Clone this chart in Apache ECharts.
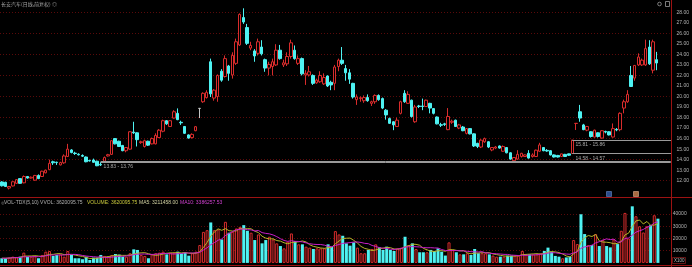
<!DOCTYPE html>
<html><head><meta charset="utf-8">
<script src="https://cdn.jsdelivr.net/npm/echarts@6/dist/echarts.min.js"></script>
<style>html,body{margin:0;padding:0;background:#000;overflow:hidden}#c{width:692px;height:267px}</style>
</head><body><div id="c"></div>
<script>
// ---- data (daily candles, oldest first) ----
const opens = [
11.88,11.85,11.3,11.5,11.75,12.2,11.8,12.4,12.25,12.05,
12.5,12.4,12.75,13.05,13.8,13.76,13.5,13.7,14.3,14.92,
14.62,14.52,14.4,14.25,13.92,13.97,13.85,13.55,13.85,14.35,
14.5,16.0,15.75,15.35,14.85,15.0,16.62,16.55,15.62,15.25,
15.75,15.5,15.5,16.1,16.7,17.7,17.15,17.95,18.4,17.55,
17.15,16.35,16.1,16.75,18.87,19.5,19.9,23.3,19.85,20.0,
22.4,21.9,22.9,22.05,23.15,24.9,27.5,26.55,24.6,24.33,
24.1,24.7,23.5,22.7,22.85,23.0,24.4,23.0,23.1,23.8,
24.4,23.15,23.6,22.05,22.05,22.0,21.3,21.4,21.2,21.95,
21.35,21.25,22.85,23.45,22.65,22.25,21.25,19.7,19.8,19.6,
19.9,19.35,19.5,20.1,19.8,18.7,17.9,17.6,17.15,18.4,
20.3,19.35,19.65,17.6,19.1,19.1,19.05,19.35,18.85,18.05,
17.32,17.4,16.85,17.55,17.75,17.0,17.1,16.5,16.95,16.45,
15.55,15.2,15.7,15.7,14.92,15.1,15.3,14.8,15.15,14.65,
13.9,14.05,14.3,14.3,14.6,14.3,14.3,14.8,15.15,14.88,
14.85,14.45,14.4,14.3,14.5,14.55,14.58,17.44,18.55,17.3,
16.8,16.65,16.15,16.55,16.05,16.68,16.65,16.15,16.88,16.85,
18.9,19.5,22.0,21.75,23.0,23.0,23.0,24.7,22.5,23.5];
const closes = [
11.52,11.45,11.45,11.9,12.1,11.75,12.4,12.25,12.33,12.5,
12.2,12.9,13.0,13.65,13.7,13.72,13.72,14.35,15.0,14.68,
14.58,14.46,14.33,13.8,13.88,13.75,13.42,13.5,14.2,14.47,
15.8,15.5,15.25,14.85,15.15,16.65,16.55,15.9,15.7,15.8,
15.38,16.0,16.3,16.8,17.7,17.4,17.7,18.55,17.8,17.5,
16.5,16.05,16.4,17.13,18.87,20.3,20.4,20.25,20.6,22.0,
21.55,23.6,22.2,23.9,25.2,27.8,27.08,25.05,24.85,23.85,
25.2,24.05,22.7,23.05,23.3,24.4,23.6,23.2,23.8,25.1,
23.6,23.6,22.15,22.2,22.35,21.25,21.55,22.0,21.8,21.0,
21.1,22.8,23.45,23.15,22.25,21.65,19.95,19.95,19.88,19.9,
19.6,19.5,20.1,19.7,18.9,18.25,17.45,17.3,17.75,19.5,
19.5,20.2,18.1,19.0,19.05,19.05,19.65,18.9,18.4,17.4,
17.27,17.35,18.1,17.65,17.15,17.3,16.75,16.95,16.45,15.3,
15.25,15.85,16.0,15.2,15.15,15.2,15.1,15.25,14.65,14.05,
14.2,14.5,14.6,14.45,14.15,14.45,14.9,15.4,14.85,14.82,
14.45,14.25,14.25,14.55,14.3,14.42,15.86,17.45,17.95,16.85,
17.15,16.2,16.8,16.2,16.75,16.62,16.35,16.95,16.82,18.4,
19.5,20.2,20.95,22.95,23.75,23.45,24.55,23.1,25.2,23.18];
const highs = [
11.95,11.9,11.5,11.95,12.15,12.25,12.5,12.45,12.4,12.55,
12.6,12.95,13.05,14.0,13.9,13.8,13.8,14.5,15.5,15.0,
14.75,14.6,14.5,14.3,14.0,14.1,13.9,13.76,14.3,14.55,
15.85,16.05,15.8,15.4,15.2,16.7,17.6,16.6,15.8,15.9,
15.8,16.1,16.5,16.9,17.8,17.75,17.75,18.7,18.87,17.7,
17.2,16.4,16.5,17.2,18.87,20.4,20.6,23.6,20.7,22.1,
22.6,23.9,23.0,24.2,25.5,27.9,28.38,26.9,25.2,24.5,
25.5,25.35,23.6,23.3,23.6,24.97,24.9,23.5,24.2,25.4,
24.85,23.9,23.7,22.5,22.9,22.1,21.7,22.4,22.2,22.0,
21.5,23.0,23.6,24.7,23.0,22.6,21.3,20.2,20.0,20.1,
20.2,19.6,20.2,20.2,19.9,18.8,18.0,17.65,18.0,19.6,
20.6,20.5,19.7,19.2,19.2,19.8,19.7,19.4,18.9,18.1,
17.5,17.5,18.9,17.8,17.8,17.4,17.2,17.0,17.0,16.5,
15.6,15.95,16.1,15.75,15.2,15.3,15.35,15.35,15.2,14.7,
14.25,14.9,14.65,14.5,14.9,14.6,14.95,15.6,15.2,15.0,
14.9,14.5,14.45,14.57,14.55,14.57,15.86,17.45,19.2,17.4,
17.2,16.7,16.85,16.6,16.8,16.75,16.7,17.44,17.0,18.5,
19.7,20.6,22.9,23.0,24.1,23.6,25.4,25.35,25.4,24.24];
const lows = [
11.45,11.4,11.17,11.45,11.7,11.7,11.75,12.2,12.2,12.0,
12.15,12.35,12.7,13.0,13.5,13.5,13.45,13.6,14.25,14.6,
14.45,14.4,14.25,13.75,13.82,13.7,13.38,13.4,13.83,14.3,
14.45,15.45,15.2,14.8,14.7,14.95,16.45,15.25,15.5,15.15,
15.3,15.45,15.45,16.05,16.6,17.3,17.1,17.9,17.75,17.3,
16.45,16.0,16.0,16.7,17.95,19.4,19.8,19.95,19.6,19.5,
21.4,21.8,21.5,21.7,23.0,24.8,26.9,24.9,24.4,23.3,
23.9,23.9,22.35,22.0,22.0,22.9,23.5,22.8,22.9,23.6,
23.5,23.0,22.0,21.1,21.9,21.1,21.2,21.3,21.1,20.9,
20.6,20.6,22.4,23.0,21.5,21.2,19.8,19.2,19.5,19.4,
19.5,19.1,19.3,19.6,18.8,17.8,17.4,16.8,17.1,18.3,
19.4,19.3,18.0,17.5,18.9,18.7,19.0,18.4,18.3,17.35,
17.1,17.2,16.8,17.4,17.1,16.9,16.7,16.4,16.4,15.2,
15.1,15.1,15.6,15.1,14.8,15.0,15.05,14.75,14.6,14.0,
13.85,14.0,14.2,14.25,14.1,14.2,14.25,14.75,14.8,14.75,
14.4,14.2,14.2,14.25,14.25,14.35,14.58,16.82,17.6,16.8,
16.7,16.1,16.1,16.1,16.0,16.5,16.3,16.1,16.7,16.7,
18.4,19.4,20.9,21.5,22.9,22.9,22.9,23.0,22.2,22.5];
// volume in hundreds of shares (axis unit X100)
const volumes = [
3800,3800,4300,5100,4600,5100,8400,5100,5100,5700,
3800,6500,9200,9700,5700,6500,7000,5100,9700,6500,
3800,3800,3000,5100,2400,4300,4300,6500,5700,5100,
6500,7300,6800,5100,5100,7900,11100,10600,6500,5700,
3800,7000,7900,8400,9200,7000,8400,8400,9200,7900,
8400,5900,7900,9200,14600,25400,26800,33100,26800,27400,
19200,33600,24700,25400,28200,29500,30900,26300,24700,18700,
23300,16000,18700,21400,19200,16000,13800,11900,17300,24100,
17900,15200,15200,13300,12500,11400,11900,11900,11900,15200,
13300,26000,23300,22200,16000,14100,16800,12500,7900,7900,
10600,11400,15200,12700,10600,13300,10600,9800,11900,12500,
21400,14600,16000,11400,8700,8700,8700,10600,9800,11900,
9200,6000,16800,10600,8700,7000,7000,7900,6500,11400,
7900,7900,7900,7000,6000,5100,5100,5100,6000,6000,
6000,6000,9800,7000,7000,7000,7000,7900,9800,12500,
9200,5700,5100,3800,4500,5100,18700,15400,39800,23600,
14600,14600,23600,13800,18700,13800,12700,19200,15400,26300,
40900,20000,46300,38200,30000,24900,30000,30900,39000,36200];
const priceTicks = [12,13,14,15,16,17,18,19,20,21,22,23,24,25,26,27,28];
const volTicks = [10000,20000,30000,40000];
const gapLines = [
  {start: 27, a: 13.83, b: 13.76, text: '13.83 - 13.76'},
  {start: 156, a: 15.81, b: 15.86, text: '15.81 - 15.86'},
  {start: 156, a: 14.58, b: 14.57, text: '14.58 - 14.57'}];
const highMark = {index: 66, value: 28.38};
const lowMark = {index: 2, value: 11.17};
const lastPrice = 23.18;
const headerTitle = '长安汽车(日线,前复权)';
const volHeader = [
  {t: 'VOL-TDX(5,10) VVOL: 3620095.75', c: '#b0b0b0'},
  {t: 'VOLUME: 3620095.75', c: '#c8c83c'},
  {t: 'MA5: 3211458.00', c: '#d0d0a0'},
  {t: 'MA10: 3386257.53', c: '#d040d0'}];

// ---- layout ----
const SLOTS = 183, STEP = 3.67, GL = -0.835, GW = SLOTS * STEP, AXIS_X = GL + GW;
const days = Array.from({length: SLOTS}, (_, i) => 'd' + (i + 1));
const UP = '#d82c2c', DN = '#4ef2f2', GRIDC = '#5a0a0a', AXC = '#9c1212', TXT = '#b4b4b4';
const FONT = 'Liberation Sans';

function ma(arr, n) {
  return arr.map((_, i) => {
    const s = Math.max(0, i - n + 1); let t = 0;
    for (let k = s; k <= i; k++) t += arr[k];
    return +(t / (i - s + 1)).toFixed(1);
  });
}

const candleData = opens.map((o, i) => [o, closes[i], lows[i], highs[i]]);
const volData = volumes.map((v, i) => ({
  value: v,
  itemStyle: closes[i] >= opens[i]
    ? {color: '#000', borderColor: UP, borderWidth: 1}
    : {color: DN, borderColor: DN, borderWidth: 0}
}));

const mlData = [];
gapLines.forEach(g => {
  const lower = Math.min(g.a, g.b);
  [g.a, g.b].forEach(v => {
    const withLabel = v === lower;
    mlData.push([
      {coord: [g.start, v], label: {show: withLabel, formatter: g.text, position: 'insideStartBottom', distance: [3, 2], color: '#a8a8a8', fontSize: 5, fontFamily: FONT}},
      {coord: [SLOTS - 1, v], x: AXIS_X}
    ]);
  });
});
mlData.push([
  {coord: [opens.length - 1, lastPrice], lineStyle: {opacity: 0},
   label: {show: true, position: 'end', formatter: lastPrice.toFixed(2), color: '#fff', backgroundColor: '#1c1cc4', padding: [1, 5, 1, 3], fontSize: 5, fontFamily: FONT, distance: 0, offset: [0, -3]}},
  {coord: [SLOTS - 1, lastPrice], x: AXIS_X}
]);

const chart = echarts.init(document.getElementById('c'), null, {renderer: 'canvas'});
chart.setOption({
  backgroundColor: '#000',
  animation: false,
  grid: [
    {left: GL, width: GW, top: 12.3, height: 168.4},
    {left: GL, width: GW, top: 201.8, height: 61.1}
  ],
  xAxis: [
    {type: 'category', gridIndex: 0, data: days, boundaryGap: true, show: false},
    {type: 'category', gridIndex: 1, data: days, boundaryGap: true, show: false}
  ],
  yAxis: [
    {type: 'value', gridIndex: 0, position: 'right', min: priceTicks[0], max: priceTicks[priceTicks.length - 1], interval: 1,
     axisLine: {show: false}, axisTick: {show: false}, splitLine: {show: false},
     axisLabel: {color: TXT, fontSize: 5, fontFamily: FONT, margin: 7, formatter: v => v.toFixed(2)}},
    {type: 'value', gridIndex: 0, position: 'right', min: priceTicks[0], max: priceTicks[priceTicks.length - 1], interval: 2,
     axisLine: {show: false}, axisTick: {show: false}, axisLabel: {show: false},
     splitLine: {show: true, lineStyle: {color: GRIDC, width: 1, type: [1, 2]}}},
    {type: 'value', gridIndex: 1, position: 'right', min: 0, max: 50000, interval: 10000,
     axisLine: {show: false}, axisTick: {show: false},
     axisLabel: {color: TXT, fontSize: 5, fontFamily: FONT, margin: 2, formatter: v => volTicks.indexOf(v) >= 0 ? String(v) : ''},
     splitLine: {show: true, showMinLine: false, showMaxLine: false, lineStyle: {color: GRIDC, width: 1, type: [1, 2]}}}
  ],
  series: [
    {type: 'candlestick', xAxisIndex: 0, yAxisIndex: 0, data: candleData, barWidth: 3, clip: false,
     itemStyle: {color: '#000', color0: DN, borderColor: UP, borderColor0: DN, borderColorDoji: '#c4c4c4', borderWidth: 1},
     markLine: {silent: true, symbol: ['none', 'none'], animation: false,
       lineStyle: {color: '#9a9a9a', width: 1, type: 'solid'}, label: {show: false}, emphasis: {disabled: true},
       data: mlData},
     markPoint: {silent: true, animation: false, symbol: 'rect', symbolSize: 0.1,
       label: {show: true, position: 'right', distance: 1, color: '#c0c0c0', fontSize: 5, fontFamily: FONT},
       data: [
         {coord: [highMark.index, highMark.value], label: {formatter: '\u2190 ' + highMark.value.toFixed(2), offset: [0, 1]}},
         {coord: [lowMark.index, lowMark.value], label: {formatter: '\u2190 ' + lowMark.value.toFixed(2), offset: [0, 1]}}
       ]}},
    {type: 'bar', xAxisIndex: 1, yAxisIndex: 2, data: volData, barWidth: 3},
    {type: 'line', xAxisIndex: 1, yAxisIndex: 2, data: ma(volumes, 5), showSymbol: false, symbol: 'none',
     lineStyle: {color: '#b4b428', width: 1}},
    {type: 'line', xAxisIndex: 1, yAxisIndex: 2, data: ma(volumes, 10), showSymbol: false, symbol: 'none',
     lineStyle: {color: '#c81ec8', width: 1}}
  ],
  graphic: (function () {
    const g = [];
    const ax = Math.round(AXIS_X) + 0.5;
    g.push({type: 'line', shape: {x1: ax, y1: 0, x2: ax, y2: 267}, style: {stroke: AXC, lineWidth: 1}, silent: true, z: 50});
    g.push({type: 'line', shape: {x1: 0, y1: 197.5, x2: 692, y2: 197.5}, style: {stroke: AXC, lineWidth: 1}, silent: true, z: 50});
    g.push({type: 'line', shape: {x1: 0, y1: 265.5, x2: 692, y2: 265.5}, style: {stroke: AXC, lineWidth: 1}, silent: true, z: 50});
    g.push({type: 'text', left: 1, top: 2, style: {text: headerTitle + ' \u25CE', fill: '#a4a4a4', font: '5px "Noto Sans CJK SC"'}, silent: true, z: 50});
    g.push({type: 'circle', shape: {cx: 659.5, cy: 4, r: 1.8}, style: {fill: 'none', stroke: '#9a9a9a', lineWidth: 0.8}, silent: true, z: 50});
    g.push({type: 'rect', shape: {x: 665.5, y: 1.5, width: 4, height: 5}, style: {fill: 'none', stroke: '#9a9a9a', lineWidth: 0.8}, silent: true, z: 50});
    g.push({type: 'text', x: 0.5, y: 202.5, style: {text: '\u25CE', fill: '#a0a0a0', font: '4px ' + FONT, verticalAlign: 'middle'}, silent: true, z: 50});
    const xs = [4, 87, 139, 180];
    volHeader.forEach((h, i) => g.push({type: 'text', x: xs[i], y: 202.5, style: {text: h.t, fill: h.c, font: '5px ' + FONT, verticalAlign: 'middle'}, silent: true, z: 50}));
    g.push({type: 'rect', shape: {x: 672.5, y: 257.5, width: 13, height: 6}, style: {fill: '#000', stroke: '#7a1a1a', lineWidth: 0.8}, silent: true, z: 50});
    g.push({type: 'text', x: 674, y: 260.8, style: {text: 'X100', fill: TXT, font: '4.5px ' + FONT, verticalAlign: 'middle'}, silent: true, z: 51});
    g.push({type: 'rect', shape: {x: 606.5, y: 191.5, width: 5, height: 5}, style: {fill: '#2a4c8c', stroke: '#6a8ac8', lineWidth: 0.6}, silent: true, z: 50});
    g.push({type: 'rect', shape: {x: 633.5, y: 191.5, width: 5, height: 5}, style: {fill: '#a86a40', stroke: '#e0b090', lineWidth: 0.6}, silent: true, z: 50});
    return g;
  })()
});
</script></body></html>
